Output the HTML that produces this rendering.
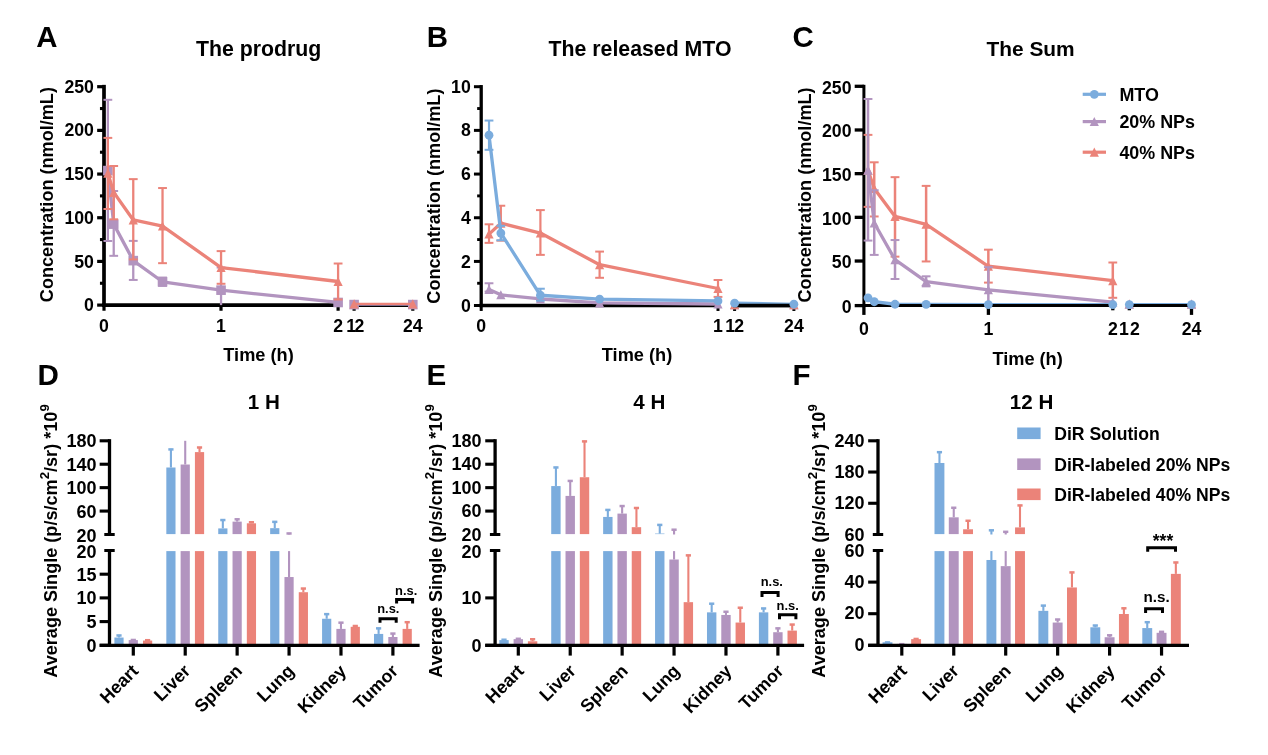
<!DOCTYPE html>
<html><head><meta charset="utf-8"><title>Figure</title>
<style>html,body{margin:0;padding:0;background:#fff}svg{display:block}</style></head>
<body>
<svg width="1268" height="755" viewBox="0 0 1268 755" font-family='&quot;Liberation Sans&quot;, Arial, sans-serif' font-weight="bold" fill="#000">
<rect width="1268" height="755" fill="#fff"/>
<line x1="104" y1="84.85" x2="104" y2="306.95" stroke="#000" stroke-width="3.7"/>
<line x1="102.15" y1="305.1" x2="339.95" y2="305.1" stroke="#000" stroke-width="3.7"/>
<line x1="352.25" y1="305.1" x2="414.65" y2="305.1" stroke="#000" stroke-width="3.7"/>
<line x1="97.15" y1="305.1" x2="104" y2="305.1" stroke="#000" stroke-width="3.2"/>
<text x="93.95" y="311.2" font-size="17.7" text-anchor="end">0</text>
<line x1="99.95" y1="283.26" x2="104" y2="283.26" stroke="#000" stroke-width="3.1"/>
<line x1="97.15" y1="261.42" x2="104" y2="261.42" stroke="#000" stroke-width="3.2"/>
<text x="93.95" y="267.52" font-size="17.7" text-anchor="end">50</text>
<line x1="99.95" y1="239.58" x2="104" y2="239.58" stroke="#000" stroke-width="3.1"/>
<line x1="97.15" y1="217.74" x2="104" y2="217.74" stroke="#000" stroke-width="3.2"/>
<text x="93.95" y="223.84" font-size="17.7" text-anchor="end">100</text>
<line x1="99.95" y1="195.9" x2="104" y2="195.9" stroke="#000" stroke-width="3.1"/>
<line x1="97.15" y1="174.06" x2="104" y2="174.06" stroke="#000" stroke-width="3.2"/>
<text x="93.95" y="180.16" font-size="17.7" text-anchor="end">150</text>
<line x1="99.95" y1="152.22" x2="104" y2="152.22" stroke="#000" stroke-width="3.1"/>
<line x1="97.15" y1="130.38" x2="104" y2="130.38" stroke="#000" stroke-width="3.2"/>
<text x="93.95" y="136.48" font-size="17.7" text-anchor="end">200</text>
<line x1="99.95" y1="108.54" x2="104" y2="108.54" stroke="#000" stroke-width="3.1"/>
<line x1="97.15" y1="86.7" x2="104" y2="86.7" stroke="#000" stroke-width="3.2"/>
<text x="93.95" y="92.8" font-size="17.7" text-anchor="end">250</text>
<line x1="104" y1="305.1" x2="104" y2="310.75" stroke="#000" stroke-width="3.2"/>
<text x="104" y="331.6" font-size="17.7" text-anchor="middle">0</text>
<line x1="221" y1="305.1" x2="221" y2="310.75" stroke="#000" stroke-width="3.2"/>
<text x="221" y="331.6" font-size="17.7" text-anchor="middle">1</text>
<line x1="338.1" y1="305.1" x2="338.1" y2="310.75" stroke="#000" stroke-width="3.2"/>
<text x="338.1" y="331.6" font-size="17.7" text-anchor="middle">2</text>
<line x1="354.1" y1="305.1" x2="354.1" y2="310.75" stroke="#000" stroke-width="3.2"/>
<text x="346.26" y="331.6" font-size="17.7">1<tspan dx="-1.7">2</tspan></text>
<line x1="412.8" y1="305.1" x2="412.8" y2="310.75" stroke="#000" stroke-width="3.2"/>
<text x="412.8" y="331.6" font-size="17.7" text-anchor="middle">24</text>
<text x="258.5" y="361" font-size="18.2" text-anchor="middle">Time (h)</text>
<text x="52.6" y="194.6" font-size="18.1" text-anchor="middle" transform="rotate(-90 52.6 194.6)">Concentration (nmol/mL)</text>
<text x="258.6" y="55.8" font-size="21.3" text-anchor="middle">The prodrug</text>
<text x="36.2" y="47.3" font-size="29.4" text-anchor="start">A</text>
<line x1="107.86" y1="240.98" x2="107.86" y2="99.8" stroke="#b294bf" stroke-width="2.3"/>
<line x1="103.46" y1="99.8" x2="112.26" y2="99.8" stroke="#b294bf" stroke-width="2.0"/>
<line x1="103.46" y1="240.98" x2="112.26" y2="240.98" stroke="#b294bf" stroke-width="2.0"/>
<line x1="113.72" y1="255.83" x2="113.72" y2="191.01" stroke="#b294bf" stroke-width="2.3"/>
<line x1="109.32" y1="191.01" x2="118.12" y2="191.01" stroke="#b294bf" stroke-width="2.0"/>
<line x1="109.32" y1="255.83" x2="118.12" y2="255.83" stroke="#b294bf" stroke-width="2.0"/>
<line x1="133.26" y1="279.94" x2="133.26" y2="240.89" stroke="#b294bf" stroke-width="2.3"/>
<line x1="128.86" y1="240.89" x2="137.66" y2="240.89" stroke="#b294bf" stroke-width="2.0"/>
<line x1="128.86" y1="279.94" x2="137.66" y2="279.94" stroke="#b294bf" stroke-width="2.0"/>
<line x1="162.53" y1="285.88" x2="162.53" y2="277.58" stroke="#b294bf" stroke-width="2.3"/>
<line x1="158.12" y1="277.58" x2="166.93" y2="277.58" stroke="#b294bf" stroke-width="2.0"/>
<line x1="158.12" y1="285.88" x2="166.93" y2="285.88" stroke="#b294bf" stroke-width="2.0"/>
<line x1="221.05" y1="305.1" x2="221.05" y2="267.54" stroke="#b294bf" stroke-width="2.3"/>
<line x1="216.65" y1="267.54" x2="225.45" y2="267.54" stroke="#b294bf" stroke-width="2.0"/>
<polyline fill="none" stroke="#b294bf" stroke-width="3.3" stroke-linejoin="round" points="107.86,170.57 113.72,224.12 133.26,260.63 162.53,281.77 221.05,290.16 338.1,302.48"/>
<polyline fill="none" stroke="#b294bf" stroke-width="2.3" stroke-linejoin="round" points="354.1,304.58 412.8,304.58"/>
<rect x="103.06" y="165.77" width="9.6" height="9.6" fill="#b294bf"/>
<rect x="108.92" y="219.32" width="9.6" height="9.6" fill="#b294bf"/>
<rect x="128.46" y="255.83" width="9.6" height="9.6" fill="#b294bf"/>
<rect x="157.72" y="276.97" width="9.6" height="9.6" fill="#b294bf"/>
<rect x="216.25" y="285.36" width="9.6" height="9.6" fill="#b294bf"/>
<rect x="333.3" y="297.68" width="9.6" height="9.6" fill="#b294bf"/>
<rect x="349.3" y="299.78" width="9.6" height="9.6" fill="#b294bf"/>
<rect x="408" y="299.78" width="9.6" height="9.6" fill="#b294bf"/>
<line x1="107.86" y1="209" x2="107.86" y2="137.89" stroke="#eb8379" stroke-width="2.3"/>
<line x1="103.46" y1="137.89" x2="112.26" y2="137.89" stroke="#eb8379" stroke-width="2.0"/>
<line x1="103.46" y1="209" x2="112.26" y2="209" stroke="#eb8379" stroke-width="2.0"/>
<line x1="113.72" y1="219.31" x2="113.72" y2="166.02" stroke="#eb8379" stroke-width="2.3"/>
<line x1="109.32" y1="166.02" x2="118.12" y2="166.02" stroke="#eb8379" stroke-width="2.0"/>
<line x1="109.32" y1="219.31" x2="118.12" y2="219.31" stroke="#eb8379" stroke-width="2.0"/>
<line x1="133.26" y1="259.41" x2="133.26" y2="179.13" stroke="#eb8379" stroke-width="2.3"/>
<line x1="128.86" y1="179.13" x2="137.66" y2="179.13" stroke="#eb8379" stroke-width="2.0"/>
<line x1="128.86" y1="259.41" x2="137.66" y2="259.41" stroke="#eb8379" stroke-width="2.0"/>
<line x1="162.53" y1="263.17" x2="162.53" y2="188.04" stroke="#eb8379" stroke-width="2.3"/>
<line x1="158.12" y1="188.04" x2="166.93" y2="188.04" stroke="#eb8379" stroke-width="2.0"/>
<line x1="158.12" y1="263.17" x2="166.93" y2="263.17" stroke="#eb8379" stroke-width="2.0"/>
<line x1="221.05" y1="283.78" x2="221.05" y2="251.11" stroke="#eb8379" stroke-width="2.3"/>
<line x1="216.65" y1="251.11" x2="225.45" y2="251.11" stroke="#eb8379" stroke-width="2.0"/>
<line x1="216.65" y1="283.78" x2="225.45" y2="283.78" stroke="#eb8379" stroke-width="2.0"/>
<line x1="338.1" y1="299.51" x2="338.1" y2="263.52" stroke="#eb8379" stroke-width="2.3"/>
<line x1="333.7" y1="263.52" x2="342.5" y2="263.52" stroke="#eb8379" stroke-width="2.0"/>
<line x1="333.7" y1="299.51" x2="342.5" y2="299.51" stroke="#eb8379" stroke-width="2.0"/>
<polyline fill="none" stroke="#eb8379" stroke-width="3.3" stroke-linejoin="round" points="107.86,173.19 113.72,192.41 133.26,219.92 162.53,226.04 221.05,267.54 338.1,281.51"/>
<polyline fill="none" stroke="#eb8379" stroke-width="2.3" stroke-linejoin="round" points="354.1,303.96 412.8,303.96"/>
<path d="M107.86,168.59 L112.46,177.69 H103.26 Z" fill="#eb8379"/>
<path d="M113.72,187.81 L118.32,196.91 H109.12 Z" fill="#eb8379"/>
<path d="M133.26,215.32 L137.86,224.42 H128.66 Z" fill="#eb8379"/>
<path d="M162.53,221.44 L167.12,230.54 H157.93 Z" fill="#eb8379"/>
<path d="M221.05,262.94 L225.65,272.04 H216.45 Z" fill="#eb8379"/>
<path d="M338.1,276.91 L342.7,286.01 H333.5 Z" fill="#eb8379"/>
<path d="M354.1,299.36 L358.7,308.46 H349.5 Z" fill="#eb8379"/>
<path d="M412.8,299.36 L417.4,308.46 H408.2 Z" fill="#eb8379"/>
<line x1="481.2" y1="85.05" x2="481.2" y2="307.15" stroke="#000" stroke-width="3.3"/>
<line x1="479.55" y1="305.5" x2="719.65" y2="305.5" stroke="#000" stroke-width="3.3"/>
<line x1="732.95" y1="305.5" x2="795.55" y2="305.5" stroke="#000" stroke-width="3.3"/>
<line x1="473.95" y1="305.5" x2="481.2" y2="305.5" stroke="#000" stroke-width="3.0"/>
<text x="470.75" y="311.6" font-size="17.7" text-anchor="end">0</text>
<line x1="477.15" y1="283.26" x2="481.2" y2="283.26" stroke="#000" stroke-width="2.9"/>
<line x1="473.95" y1="261.42" x2="481.2" y2="261.42" stroke="#000" stroke-width="3.0"/>
<text x="470.75" y="267.52" font-size="17.7" text-anchor="end">2</text>
<line x1="477.15" y1="239.58" x2="481.2" y2="239.58" stroke="#000" stroke-width="2.9"/>
<line x1="473.95" y1="217.74" x2="481.2" y2="217.74" stroke="#000" stroke-width="3.0"/>
<text x="470.75" y="223.84" font-size="17.7" text-anchor="end">4</text>
<line x1="477.15" y1="195.9" x2="481.2" y2="195.9" stroke="#000" stroke-width="2.9"/>
<line x1="473.95" y1="174.06" x2="481.2" y2="174.06" stroke="#000" stroke-width="3.0"/>
<text x="470.75" y="180.16" font-size="17.7" text-anchor="end">6</text>
<line x1="477.15" y1="152.22" x2="481.2" y2="152.22" stroke="#000" stroke-width="2.9"/>
<line x1="473.95" y1="130.38" x2="481.2" y2="130.38" stroke="#000" stroke-width="3.0"/>
<text x="470.75" y="136.48" font-size="17.7" text-anchor="end">8</text>
<line x1="477.15" y1="108.54" x2="481.2" y2="108.54" stroke="#000" stroke-width="2.9"/>
<line x1="473.95" y1="86.7" x2="481.2" y2="86.7" stroke="#000" stroke-width="3.0"/>
<text x="470.75" y="92.8" font-size="17.7" text-anchor="end">10</text>
<line x1="481.2" y1="305.5" x2="481.2" y2="310.95" stroke="#000" stroke-width="3.0"/>
<text x="481.2" y="331.6" font-size="17.7" text-anchor="middle">0</text>
<line x1="718" y1="305.5" x2="718" y2="310.95" stroke="#000" stroke-width="3.0"/>
<text x="718" y="331.6" font-size="17.7" text-anchor="middle">1</text>
<line x1="734.6" y1="305.5" x2="734.6" y2="310.95" stroke="#000" stroke-width="3.0"/>
<text x="725.16" y="331.6" font-size="17.7">1<tspan dx="-0.7">2</tspan></text>
<line x1="793.9" y1="305.5" x2="793.9" y2="310.95" stroke="#000" stroke-width="3.0"/>
<text x="793.9" y="331.6" font-size="17.7" text-anchor="middle">24</text>
<text x="637" y="361" font-size="18.2" text-anchor="middle">Time (h)</text>
<text x="440.4" y="196.1" font-size="18.1" text-anchor="middle" transform="rotate(-90 440.4 196.1)">Concentration (nmol/mL)</text>
<text x="640" y="55.8" font-size="21.3" text-anchor="middle">The released MTO</text>
<text x="426.7" y="47.3" font-size="29.4" text-anchor="start">B</text>
<line x1="489.01" y1="291.56" x2="489.01" y2="283.26" stroke="#b294bf" stroke-width="2.2"/>
<line x1="484.61" y1="283.26" x2="493.41" y2="283.26" stroke="#b294bf" stroke-width="2.0"/>
<line x1="484.61" y1="291.56" x2="493.41" y2="291.56" stroke="#b294bf" stroke-width="2.0"/>
<polyline fill="none" stroke="#b294bf" stroke-width="3.3" stroke-linejoin="round" points="489.01,289.38 500.85,294.84 540.4,298.98 599.6,302.92 718,304.01"/>
<path d="M489.01,284.78 L493.61,293.88 H484.41 Z" fill="#b294bf"/>
<path d="M500.85,290.24 L505.45,299.34 H496.25 Z" fill="#b294bf"/>
<path d="M540.4,294.38 L545,303.48 H535.8 Z" fill="#b294bf"/>
<path d="M599.6,298.32 L604.2,307.42 H595 Z" fill="#b294bf"/>
<path d="M718,299.41 L722.6,308.51 H713.4 Z" fill="#b294bf"/>
<path d="M734.6,300.06 L739.2,309.16 H730 Z" fill="#b294bf"/>
<path d="M793.9,300.06 L798.5,309.16 H789.3 Z" fill="#b294bf"/>
<line x1="489.01" y1="242.86" x2="489.01" y2="224.29" stroke="#eb8379" stroke-width="2.2"/>
<line x1="484.61" y1="224.29" x2="493.41" y2="224.29" stroke="#eb8379" stroke-width="2.0"/>
<line x1="484.61" y1="242.86" x2="493.41" y2="242.86" stroke="#eb8379" stroke-width="2.0"/>
<line x1="500.85" y1="240.67" x2="500.85" y2="205.73" stroke="#eb8379" stroke-width="2.2"/>
<line x1="496.45" y1="205.73" x2="505.25" y2="205.73" stroke="#eb8379" stroke-width="2.0"/>
<line x1="496.45" y1="240.67" x2="505.25" y2="240.67" stroke="#eb8379" stroke-width="2.0"/>
<line x1="540.4" y1="254.87" x2="540.4" y2="210.1" stroke="#eb8379" stroke-width="2.2"/>
<line x1="536" y1="210.1" x2="544.8" y2="210.1" stroke="#eb8379" stroke-width="2.0"/>
<line x1="536" y1="254.87" x2="544.8" y2="254.87" stroke="#eb8379" stroke-width="2.0"/>
<line x1="599.6" y1="277.8" x2="599.6" y2="251.59" stroke="#eb8379" stroke-width="2.2"/>
<line x1="595.2" y1="251.59" x2="604" y2="251.59" stroke="#eb8379" stroke-width="2.0"/>
<line x1="595.2" y1="277.8" x2="604" y2="277.8" stroke="#eb8379" stroke-width="2.0"/>
<line x1="718" y1="296.91" x2="718" y2="279.98" stroke="#eb8379" stroke-width="2.2"/>
<line x1="713.6" y1="279.98" x2="722.4" y2="279.98" stroke="#eb8379" stroke-width="2.0"/>
<line x1="713.6" y1="296.91" x2="722.4" y2="296.91" stroke="#eb8379" stroke-width="2.0"/>
<polyline fill="none" stroke="#eb8379" stroke-width="3.3" stroke-linejoin="round" points="489.01,234.12 500.85,223.2 540.4,233.03 599.6,264.7 718,288.5"/>
<path d="M489.01,229.52 L493.61,238.62 H484.41 Z" fill="#eb8379"/>
<path d="M500.85,218.6 L505.45,227.7 H496.25 Z" fill="#eb8379"/>
<path d="M540.4,228.43 L545,237.53 H535.8 Z" fill="#eb8379"/>
<path d="M599.6,260.1 L604.2,269.2 H595 Z" fill="#eb8379"/>
<path d="M718,283.9 L722.6,293 H713.4 Z" fill="#eb8379"/>
<path d="M734.6,300.06 L739.2,309.16 H730 Z" fill="#eb8379"/>
<path d="M793.9,300.06 L798.5,309.16 H789.3 Z" fill="#eb8379"/>
<line x1="489.01" y1="149.82" x2="489.01" y2="120.55" stroke="#7bacdd" stroke-width="2.2"/>
<line x1="484.61" y1="120.55" x2="493.41" y2="120.55" stroke="#7bacdd" stroke-width="2.0"/>
<line x1="484.61" y1="149.82" x2="493.41" y2="149.82" stroke="#7bacdd" stroke-width="2.0"/>
<line x1="500.85" y1="240.24" x2="500.85" y2="225.82" stroke="#7bacdd" stroke-width="2.2"/>
<line x1="496.45" y1="225.82" x2="505.25" y2="225.82" stroke="#7bacdd" stroke-width="2.0"/>
<line x1="496.45" y1="240.24" x2="505.25" y2="240.24" stroke="#7bacdd" stroke-width="2.0"/>
<line x1="540.4" y1="300.73" x2="540.4" y2="288.72" stroke="#7bacdd" stroke-width="2.2"/>
<line x1="536" y1="288.72" x2="544.8" y2="288.72" stroke="#7bacdd" stroke-width="2.0"/>
<line x1="536" y1="300.73" x2="544.8" y2="300.73" stroke="#7bacdd" stroke-width="2.0"/>
<polyline fill="none" stroke="#7bacdd" stroke-width="3.3" stroke-linejoin="round" points="489.01,135.18 500.85,233.03 540.4,295.27 599.6,299.2 718,300.95"/>
<polyline fill="none" stroke="#7bacdd" stroke-width="3.2" stroke-linejoin="round" points="734.6,303.2 793.9,304.23"/>
<line x1="733" y1="305.5" x2="795.5" y2="305.5" stroke="#000" stroke-width="3.3"/>
<circle cx="489.01" cy="135.18" r="4.4" fill="#7bacdd"/>
<circle cx="500.85" cy="233.03" r="4.4" fill="#7bacdd"/>
<circle cx="540.4" cy="295.27" r="4.4" fill="#7bacdd"/>
<circle cx="599.6" cy="299.2" r="4.4" fill="#7bacdd"/>
<circle cx="718" cy="300.95" r="4.4" fill="#7bacdd"/>
<circle cx="734.6" cy="303.2" r="4.4" fill="#7bacdd"/>
<circle cx="793.9" cy="304.23" r="4.4" fill="#7bacdd"/>
<line x1="863.9" y1="84.8" x2="863.9" y2="307.1" stroke="#000" stroke-width="3.0"/>
<line x1="862.4" y1="305.6" x2="1114.3" y2="305.6" stroke="#000" stroke-width="3.0"/>
<line x1="1127.8" y1="305.6" x2="1193" y2="305.6" stroke="#000" stroke-width="3.0"/>
<line x1="854.7" y1="305.6" x2="863.9" y2="305.6" stroke="#000" stroke-width="3.3"/>
<text x="851.5" y="312.8" font-size="17.7" text-anchor="end">0</text>
<line x1="854.7" y1="261.02" x2="863.9" y2="261.02" stroke="#000" stroke-width="3.3"/>
<text x="851.5" y="268.22" font-size="17.7" text-anchor="end">50</text>
<line x1="854.7" y1="217.34" x2="863.9" y2="217.34" stroke="#000" stroke-width="3.3"/>
<text x="851.5" y="224.54" font-size="17.7" text-anchor="end">100</text>
<line x1="854.7" y1="173.66" x2="863.9" y2="173.66" stroke="#000" stroke-width="3.3"/>
<text x="851.5" y="180.86" font-size="17.7" text-anchor="end">150</text>
<line x1="854.7" y1="129.98" x2="863.9" y2="129.98" stroke="#000" stroke-width="3.3"/>
<text x="851.5" y="137.18" font-size="17.7" text-anchor="end">200</text>
<line x1="854.7" y1="86.3" x2="863.9" y2="86.3" stroke="#000" stroke-width="3.3"/>
<text x="851.5" y="93.5" font-size="17.7" text-anchor="end">250</text>
<line x1="863.9" y1="305.6" x2="863.9" y2="314.9" stroke="#000" stroke-width="3.3"/>
<text x="863.9" y="334.5" font-size="17.7" text-anchor="middle">0</text>
<line x1="988.4" y1="305.6" x2="988.4" y2="314.9" stroke="#000" stroke-width="3.3"/>
<text x="988.4" y="334.5" font-size="17.7" text-anchor="middle">1</text>
<line x1="1112.8" y1="305.6" x2="1112.8" y2="310.3" stroke="#000" stroke-width="3.3"/>
<text x="1112.8" y="334.5" font-size="17.7" text-anchor="middle">2</text>
<line x1="1129.3" y1="305.6" x2="1129.3" y2="310.3" stroke="#000" stroke-width="3.3"/>
<text x="1119.06" y="334.5" font-size="17.7">1<tspan dx="1">2</tspan></text>
<line x1="1191.5" y1="305.6" x2="1191.5" y2="314.9" stroke="#000" stroke-width="3.3"/>
<text x="1191.5" y="334.5" font-size="17.7" text-anchor="middle">24</text>
<text x="1027.6" y="365" font-size="18.2" text-anchor="middle">Time (h)</text>
<text x="811" y="194.95" font-size="18.1" text-anchor="middle" transform="rotate(-90 811 194.95)">Concentration (nmol/mL)</text>
<text x="1030.6" y="56.2" font-size="20.9" text-anchor="middle">The Sum</text>
<text x="792.5" y="47.3" font-size="29.4" text-anchor="start">C</text>
<line x1="868.01" y1="206.86" x2="868.01" y2="134.87" stroke="#eb8379" stroke-width="2.5"/>
<line x1="863.61" y1="134.87" x2="872.41" y2="134.87" stroke="#eb8379" stroke-width="2.0"/>
<line x1="863.61" y1="206.86" x2="872.41" y2="206.86" stroke="#eb8379" stroke-width="2.0"/>
<line x1="874.23" y1="216.47" x2="874.23" y2="162.3" stroke="#eb8379" stroke-width="2.5"/>
<line x1="869.83" y1="162.3" x2="878.63" y2="162.3" stroke="#eb8379" stroke-width="2.0"/>
<line x1="869.83" y1="216.47" x2="878.63" y2="216.47" stroke="#eb8379" stroke-width="2.0"/>
<line x1="895.01" y1="256.65" x2="895.01" y2="177.15" stroke="#eb8379" stroke-width="2.5"/>
<line x1="890.61" y1="177.15" x2="899.41" y2="177.15" stroke="#eb8379" stroke-width="2.0"/>
<line x1="890.61" y1="256.65" x2="899.41" y2="256.65" stroke="#eb8379" stroke-width="2.0"/>
<line x1="926.12" y1="261.46" x2="926.12" y2="185.89" stroke="#eb8379" stroke-width="2.5"/>
<line x1="921.73" y1="185.89" x2="930.52" y2="185.89" stroke="#eb8379" stroke-width="2.0"/>
<line x1="921.73" y1="261.46" x2="930.52" y2="261.46" stroke="#eb8379" stroke-width="2.0"/>
<line x1="988.35" y1="282.6" x2="988.35" y2="249.66" stroke="#eb8379" stroke-width="2.5"/>
<line x1="983.95" y1="249.66" x2="992.75" y2="249.66" stroke="#eb8379" stroke-width="2.0"/>
<line x1="983.95" y1="282.6" x2="992.75" y2="282.6" stroke="#eb8379" stroke-width="2.0"/>
<line x1="1112.8" y1="297.8" x2="1112.8" y2="262.51" stroke="#eb8379" stroke-width="2.5"/>
<line x1="1108.4" y1="262.51" x2="1117.2" y2="262.51" stroke="#eb8379" stroke-width="2.0"/>
<line x1="1108.4" y1="297.8" x2="1117.2" y2="297.8" stroke="#eb8379" stroke-width="2.0"/>
<polyline fill="none" stroke="#eb8379" stroke-width="3.3" stroke-linejoin="round" points="868.01,170.17 874.23,188.51 895.01,216.47 926.12,224.33 988.35,266.26 1112.8,280.68"/>
<path d="M868.01,165.57 L872.61,174.67 H863.41 Z" fill="#eb8379"/>
<path d="M874.23,183.91 L878.83,193.01 H869.63 Z" fill="#eb8379"/>
<path d="M895.01,211.87 L899.61,220.97 H890.41 Z" fill="#eb8379"/>
<path d="M926.12,219.73 L930.73,228.83 H921.52 Z" fill="#eb8379"/>
<path d="M988.35,261.66 L992.95,270.76 H983.75 Z" fill="#eb8379"/>
<path d="M1112.8,276.08 L1117.4,285.18 H1108.2 Z" fill="#eb8379"/>
<path d="M1129.3,299.4 L1133.9,308.5 H1124.7 Z" fill="#eb8379"/>
<path d="M1191.5,299.4 L1196.1,308.5 H1186.9 Z" fill="#eb8379"/>
<line x1="868.01" y1="240.58" x2="868.01" y2="98.97" stroke="#b294bf" stroke-width="2.5"/>
<line x1="863.61" y1="98.97" x2="872.41" y2="98.97" stroke="#b294bf" stroke-width="2.0"/>
<line x1="863.61" y1="240.58" x2="872.41" y2="240.58" stroke="#b294bf" stroke-width="2.0"/>
<line x1="874.23" y1="254.9" x2="874.23" y2="190.26" stroke="#b294bf" stroke-width="2.5"/>
<line x1="869.83" y1="190.26" x2="878.63" y2="190.26" stroke="#b294bf" stroke-width="2.0"/>
<line x1="869.83" y1="254.9" x2="878.63" y2="254.9" stroke="#b294bf" stroke-width="2.0"/>
<line x1="895.01" y1="279.02" x2="895.01" y2="240.05" stroke="#b294bf" stroke-width="2.5"/>
<line x1="890.61" y1="240.05" x2="899.41" y2="240.05" stroke="#b294bf" stroke-width="2.0"/>
<line x1="890.61" y1="279.02" x2="899.41" y2="279.02" stroke="#b294bf" stroke-width="2.0"/>
<line x1="926.12" y1="286.35" x2="926.12" y2="276.31" stroke="#b294bf" stroke-width="2.5"/>
<line x1="921.73" y1="276.31" x2="930.52" y2="276.31" stroke="#b294bf" stroke-width="2.0"/>
<line x1="921.73" y1="286.35" x2="930.52" y2="286.35" stroke="#b294bf" stroke-width="2.0"/>
<line x1="988.35" y1="304.7" x2="988.35" y2="267.14" stroke="#b294bf" stroke-width="2.5"/>
<line x1="983.95" y1="267.14" x2="992.75" y2="267.14" stroke="#b294bf" stroke-width="2.0"/>
<polyline fill="none" stroke="#b294bf" stroke-width="3.3" stroke-linejoin="round" points="868.01,170.17 874.23,223.02 895.01,259.71 926.12,281.55 988.35,289.85 1112.8,302.08"/>
<path d="M868.01,165.57 L872.61,174.67 H863.41 Z" fill="#b294bf"/>
<path d="M874.23,218.42 L878.83,227.52 H869.63 Z" fill="#b294bf"/>
<path d="M895.01,255.11 L899.61,264.21 H890.41 Z" fill="#b294bf"/>
<path d="M926.12,276.95 L930.73,286.05 H921.52 Z" fill="#b294bf"/>
<path d="M988.35,285.25 L992.95,294.35 H983.75 Z" fill="#b294bf"/>
<path d="M1112.8,297.48 L1117.4,306.58 H1108.2 Z" fill="#b294bf"/>
<path d="M1129.3,299.58 L1133.9,308.68 H1124.7 Z" fill="#b294bf"/>
<path d="M1191.5,299.58 L1196.1,308.68 H1186.9 Z" fill="#b294bf"/>
<polyline fill="none" stroke="#7bacdd" stroke-width="3.3" stroke-linejoin="round" points="868.01,297.8 874.23,301.73 895.01,304.26 926.12,304.44 988.35,304.53 1112.8,304.61"/>
<polyline fill="none" stroke="#7bacdd" stroke-width="3.2" stroke-linejoin="round" points="1129.3,304.61 1191.5,304.66"/>
<line x1="893" y1="305.6" x2="1114.4" y2="305.6" stroke="#000" stroke-width="3.0"/>
<line x1="1127.7" y1="305.6" x2="1193.1" y2="305.6" stroke="#000" stroke-width="3.0"/>
<circle cx="868.01" cy="297.8" r="4.4" fill="#7bacdd"/>
<circle cx="874.23" cy="301.73" r="4.4" fill="#7bacdd"/>
<circle cx="895.01" cy="304.26" r="4.4" fill="#7bacdd"/>
<circle cx="926.12" cy="304.44" r="4.4" fill="#7bacdd"/>
<circle cx="988.35" cy="304.53" r="4.4" fill="#7bacdd"/>
<circle cx="1112.8" cy="304.61" r="4.4" fill="#7bacdd"/>
<circle cx="1129.3" cy="304.61" r="4.4" fill="#7bacdd"/>
<circle cx="1191.5" cy="304.66" r="4.4" fill="#7bacdd"/>
<line x1="119" y1="637.53" x2="119" y2="634.87" stroke="#7bacdd" stroke-width="2.1"/>
<line x1="116.4" y1="635.47" x2="121.6" y2="635.47" stroke="#7bacdd" stroke-width="2.5"/>
<rect x="114.4" y="637.53" width="9.2" height="7.77" fill="#7bacdd"/>
<line x1="133.3" y1="640.09" x2="133.3" y2="639.38" stroke="#b294bf" stroke-width="2.1"/>
<line x1="130.7" y1="639.98" x2="135.9" y2="639.98" stroke="#b294bf" stroke-width="2.5"/>
<rect x="128.7" y="640.09" width="9.2" height="5.21" fill="#b294bf"/>
<line x1="147.6" y1="640.56" x2="147.6" y2="639.61" stroke="#eb8379" stroke-width="2.1"/>
<line x1="145" y1="640.21" x2="150.2" y2="640.21" stroke="#eb8379" stroke-width="2.5"/>
<rect x="143" y="640.56" width="9.2" height="4.74" fill="#eb8379"/>
<line x1="170.92" y1="467.5" x2="170.92" y2="448.82" stroke="#7bacdd" stroke-width="2.1"/>
<line x1="168.32" y1="449.42" x2="173.52" y2="449.42" stroke="#7bacdd" stroke-width="2.5"/>
<rect x="166.32" y="551.1" width="9.2" height="94.2" fill="#7bacdd"/>
<rect x="166.32" y="467.5" width="9.2" height="66.6" fill="#7bacdd"/>
<line x1="185.22" y1="464.52" x2="185.22" y2="440.8" stroke="#b294bf" stroke-width="2.1"/>
<rect x="180.62" y="551.1" width="9.2" height="94.2" fill="#b294bf"/>
<rect x="180.62" y="464.52" width="9.2" height="69.58" fill="#b294bf"/>
<line x1="199.52" y1="452.1" x2="199.52" y2="446.89" stroke="#eb8379" stroke-width="2.1"/>
<line x1="196.92" y1="447.49" x2="202.12" y2="447.49" stroke="#eb8379" stroke-width="2.5"/>
<rect x="194.92" y="551.1" width="9.2" height="94.2" fill="#eb8379"/>
<rect x="194.92" y="452.1" width="9.2" height="82" fill="#eb8379"/>
<line x1="222.84" y1="528.41" x2="222.84" y2="519.45" stroke="#7bacdd" stroke-width="2.1"/>
<line x1="220.24" y1="520.05" x2="225.44" y2="520.05" stroke="#7bacdd" stroke-width="2.5"/>
<rect x="218.24" y="551.1" width="9.2" height="94.2" fill="#7bacdd"/>
<rect x="218.24" y="528.41" width="9.2" height="5.69" fill="#7bacdd"/>
<line x1="237.14" y1="521.62" x2="237.14" y2="518.69" stroke="#b294bf" stroke-width="2.1"/>
<line x1="234.54" y1="519.29" x2="239.74" y2="519.29" stroke="#b294bf" stroke-width="2.5"/>
<rect x="232.54" y="551.1" width="9.2" height="94.2" fill="#b294bf"/>
<rect x="232.54" y="521.62" width="9.2" height="12.48" fill="#b294bf"/>
<line x1="251.44" y1="523.31" x2="251.44" y2="521.62" stroke="#eb8379" stroke-width="2.1"/>
<line x1="248.84" y1="522.22" x2="254.04" y2="522.22" stroke="#eb8379" stroke-width="2.5"/>
<rect x="246.84" y="551.1" width="9.2" height="94.2" fill="#eb8379"/>
<rect x="246.84" y="523.31" width="9.2" height="10.79" fill="#eb8379"/>
<line x1="274.76" y1="528.18" x2="274.76" y2="521.26" stroke="#7bacdd" stroke-width="2.1"/>
<line x1="272.16" y1="521.86" x2="277.36" y2="521.86" stroke="#7bacdd" stroke-width="2.5"/>
<rect x="270.16" y="551.1" width="9.2" height="94.2" fill="#7bacdd"/>
<rect x="270.16" y="528.18" width="9.2" height="5.92" fill="#7bacdd"/>
<line x1="289.06" y1="577.04" x2="289.06" y2="551.1" stroke="#b294bf" stroke-width="2.1"/>
<line x1="289.06" y1="534.5" x2="289.06" y2="532.86" stroke="#b294bf" stroke-width="2.1"/>
<line x1="286.46" y1="533.46" x2="291.66" y2="533.46" stroke="#b294bf" stroke-width="2.5"/>
<rect x="284.46" y="577.04" width="9.2" height="68.26" fill="#b294bf"/>
<line x1="303.36" y1="592.21" x2="303.36" y2="587.95" stroke="#eb8379" stroke-width="2.1"/>
<line x1="300.76" y1="588.55" x2="305.96" y2="588.55" stroke="#eb8379" stroke-width="2.5"/>
<rect x="298.76" y="592.21" width="9.2" height="53.09" fill="#eb8379"/>
<line x1="326.68" y1="618.76" x2="326.68" y2="613.54" stroke="#7bacdd" stroke-width="2.1"/>
<line x1="324.08" y1="614.14" x2="329.28" y2="614.14" stroke="#7bacdd" stroke-width="2.5"/>
<rect x="322.08" y="618.76" width="9.2" height="26.54" fill="#7bacdd"/>
<line x1="340.98" y1="628.9" x2="340.98" y2="622.07" stroke="#b294bf" stroke-width="2.1"/>
<line x1="338.38" y1="622.67" x2="343.58" y2="622.67" stroke="#b294bf" stroke-width="2.5"/>
<rect x="336.38" y="628.9" width="9.2" height="16.4" fill="#b294bf"/>
<line x1="355.28" y1="626.81" x2="355.28" y2="625.39" stroke="#eb8379" stroke-width="2.1"/>
<line x1="352.68" y1="625.99" x2="357.88" y2="625.99" stroke="#eb8379" stroke-width="2.5"/>
<rect x="350.68" y="626.81" width="9.2" height="18.49" fill="#eb8379"/>
<line x1="378.6" y1="633.92" x2="378.6" y2="627.76" stroke="#7bacdd" stroke-width="2.1"/>
<line x1="376" y1="628.36" x2="381.2" y2="628.36" stroke="#7bacdd" stroke-width="2.5"/>
<rect x="374" y="633.92" width="9.2" height="11.38" fill="#7bacdd"/>
<line x1="392.9" y1="637" x2="392.9" y2="632.98" stroke="#b294bf" stroke-width="2.1"/>
<line x1="390.3" y1="633.58" x2="395.5" y2="633.58" stroke="#b294bf" stroke-width="2.5"/>
<rect x="388.3" y="637" width="9.2" height="8.29" fill="#b294bf"/>
<line x1="407.2" y1="628.9" x2="407.2" y2="621.6" stroke="#eb8379" stroke-width="2.1"/>
<line x1="404.6" y1="622.2" x2="409.8" y2="622.2" stroke="#eb8379" stroke-width="2.5"/>
<rect x="402.6" y="628.9" width="9.2" height="16.4" fill="#eb8379"/>
<line x1="109.5" y1="439.15" x2="109.5" y2="536" stroke="#000" stroke-width="3.3"/>
<line x1="109.5" y1="549" x2="109.5" y2="646.95" stroke="#000" stroke-width="3.3"/>
<line x1="104.3" y1="534.5" x2="114.7" y2="534.5" stroke="#000" stroke-width="3.0"/>
<line x1="104.3" y1="550.5" x2="114.7" y2="550.5" stroke="#000" stroke-width="3.0"/>
<line x1="99.65" y1="645.3" x2="419.6" y2="645.3" stroke="#000" stroke-width="3.3"/>
<line x1="99.65" y1="440.8" x2="109.5" y2="440.8" stroke="#000" stroke-width="3.1"/>
<text x="96.45" y="447.3" font-size="18.0" text-anchor="end">180</text>
<line x1="99.65" y1="464.23" x2="109.5" y2="464.23" stroke="#000" stroke-width="3.1"/>
<text x="96.45" y="470.73" font-size="18.0" text-anchor="end">140</text>
<line x1="99.65" y1="487.65" x2="109.5" y2="487.65" stroke="#000" stroke-width="3.1"/>
<text x="96.45" y="494.15" font-size="18.0" text-anchor="end">100</text>
<line x1="99.65" y1="511.07" x2="109.5" y2="511.07" stroke="#000" stroke-width="3.1"/>
<text x="96.45" y="517.58" font-size="18.0" text-anchor="end">60</text>
<text x="96.45" y="541.6" font-size="18.0" text-anchor="end">20</text>
<text x="96.45" y="557.8" font-size="18.0" text-anchor="end">20</text>
<line x1="99.65" y1="574.2" x2="109.5" y2="574.2" stroke="#000" stroke-width="3.1"/>
<text x="96.45" y="580.7" font-size="18.0" text-anchor="end">15</text>
<line x1="99.65" y1="597.9" x2="109.5" y2="597.9" stroke="#000" stroke-width="3.1"/>
<text x="96.45" y="604.4" font-size="18.0" text-anchor="end">10</text>
<line x1="99.65" y1="621.6" x2="109.5" y2="621.6" stroke="#000" stroke-width="3.1"/>
<text x="96.45" y="628.1" font-size="18.0" text-anchor="end">5</text>
<line x1="99.65" y1="645.3" x2="109.5" y2="645.3" stroke="#000" stroke-width="3.1"/>
<text x="96.45" y="651.8" font-size="18.0" text-anchor="end">0</text>
<line x1="133.3" y1="645.3" x2="133.3" y2="655.6" stroke="#000" stroke-width="3.2"/>
<text x="139.5" y="672.1" font-size="17.9" text-anchor="end" transform="rotate(-45 139.5 672.1)">Heart</text>
<line x1="185.22" y1="645.3" x2="185.22" y2="655.6" stroke="#000" stroke-width="3.2"/>
<text x="191.42" y="672.1" font-size="17.9" text-anchor="end" transform="rotate(-45 191.42 672.1)">Liver</text>
<line x1="237.14" y1="645.3" x2="237.14" y2="655.6" stroke="#000" stroke-width="3.2"/>
<text x="243.34" y="672.1" font-size="17.9" text-anchor="end" transform="rotate(-45 243.34 672.1)">Spleen</text>
<line x1="289.06" y1="645.3" x2="289.06" y2="655.6" stroke="#000" stroke-width="3.2"/>
<text x="295.26" y="672.1" font-size="17.9" text-anchor="end" transform="rotate(-45 295.26 672.1)">Lung</text>
<line x1="340.98" y1="645.3" x2="340.98" y2="655.6" stroke="#000" stroke-width="3.2"/>
<text x="347.18" y="672.1" font-size="17.9" text-anchor="end" transform="rotate(-45 347.18 672.1)">Kidney</text>
<line x1="392.9" y1="645.3" x2="392.9" y2="655.6" stroke="#000" stroke-width="3.2"/>
<text x="399.1" y="672.1" font-size="17.9" text-anchor="end" transform="rotate(-45 399.1 672.1)">Tumor</text>
<text x="57.1" y="541" font-size="18.1" text-anchor="middle" transform="rotate(-90 57.1 541)">Average Single (p/s/cm<tspan dy="-8.3" font-size="13.2">2</tspan><tspan dy="8.3">/sr) *10</tspan><tspan dy="-8.3" font-size="13.2">9</tspan></text>
<text x="263.9" y="408.9" font-size="20.6" text-anchor="middle">1 H</text>
<text x="37.4" y="385" font-size="29.6" text-anchor="start">D</text>
<path d="M380,622.8 V618.7 H396.2 V622.8" fill="none" stroke="#000" stroke-width="3"/>
<text x="388.3" y="612.8" font-size="12.9" text-anchor="middle">n.s.</text>
<path d="M396.6,603.6 V599.6 H412.6 V603.6" fill="none" stroke="#000" stroke-width="3"/>
<text x="406.2" y="595.4" font-size="12.9" text-anchor="middle">n.s.</text>
<line x1="504" y1="640.09" x2="504" y2="639.14" stroke="#7bacdd" stroke-width="2.1"/>
<line x1="501.4" y1="639.74" x2="506.6" y2="639.74" stroke="#7bacdd" stroke-width="2.5"/>
<rect x="499.3" y="640.09" width="9.4" height="5.21" fill="#7bacdd"/>
<line x1="518.3" y1="639.14" x2="518.3" y2="638.19" stroke="#b294bf" stroke-width="2.1"/>
<line x1="515.7" y1="638.79" x2="520.9" y2="638.79" stroke="#b294bf" stroke-width="2.5"/>
<rect x="513.6" y="639.14" width="9.4" height="6.16" fill="#b294bf"/>
<line x1="532.6" y1="641.27" x2="532.6" y2="638.66" stroke="#eb8379" stroke-width="2.1"/>
<line x1="530" y1="639.26" x2="535.2" y2="639.26" stroke="#eb8379" stroke-width="2.5"/>
<rect x="527.9" y="641.27" width="9.4" height="4.03" fill="#eb8379"/>
<line x1="555.92" y1="486.07" x2="555.92" y2="466.86" stroke="#7bacdd" stroke-width="2.1"/>
<line x1="553.32" y1="467.46" x2="558.52" y2="467.46" stroke="#7bacdd" stroke-width="2.5"/>
<rect x="551.22" y="551.1" width="9.4" height="94.2" fill="#7bacdd"/>
<rect x="551.22" y="486.07" width="9.4" height="48.03" fill="#7bacdd"/>
<line x1="570.22" y1="495.91" x2="570.22" y2="480.33" stroke="#b294bf" stroke-width="2.1"/>
<line x1="567.62" y1="480.93" x2="572.82" y2="480.93" stroke="#b294bf" stroke-width="2.5"/>
<rect x="565.52" y="551.1" width="9.4" height="94.2" fill="#b294bf"/>
<rect x="565.52" y="495.91" width="9.4" height="38.19" fill="#b294bf"/>
<line x1="584.52" y1="477.23" x2="584.52" y2="440.8" stroke="#eb8379" stroke-width="2.1"/>
<line x1="581.92" y1="441.4" x2="587.12" y2="441.4" stroke="#eb8379" stroke-width="2.5"/>
<rect x="579.82" y="551.1" width="9.4" height="94.2" fill="#eb8379"/>
<rect x="579.82" y="477.23" width="9.4" height="56.87" fill="#eb8379"/>
<line x1="607.84" y1="516.93" x2="607.84" y2="509.32" stroke="#7bacdd" stroke-width="2.1"/>
<line x1="605.24" y1="509.92" x2="610.44" y2="509.92" stroke="#7bacdd" stroke-width="2.5"/>
<rect x="603.14" y="551.1" width="9.4" height="94.2" fill="#7bacdd"/>
<rect x="603.14" y="516.93" width="9.4" height="17.17" fill="#7bacdd"/>
<line x1="622.14" y1="513.59" x2="622.14" y2="505.45" stroke="#b294bf" stroke-width="2.1"/>
<line x1="619.54" y1="506.05" x2="624.74" y2="506.05" stroke="#b294bf" stroke-width="2.5"/>
<rect x="617.44" y="551.1" width="9.4" height="94.2" fill="#b294bf"/>
<rect x="617.44" y="513.59" width="9.4" height="20.51" fill="#b294bf"/>
<line x1="636.44" y1="527.18" x2="636.44" y2="507.39" stroke="#eb8379" stroke-width="2.1"/>
<line x1="633.84" y1="507.99" x2="639.04" y2="507.99" stroke="#eb8379" stroke-width="2.5"/>
<rect x="631.74" y="551.1" width="9.4" height="94.2" fill="#eb8379"/>
<rect x="631.74" y="527.18" width="9.4" height="6.92" fill="#eb8379"/>
<line x1="659.76" y1="533.56" x2="659.76" y2="524.31" stroke="#7bacdd" stroke-width="2.1"/>
<line x1="657.16" y1="524.91" x2="662.36" y2="524.91" stroke="#7bacdd" stroke-width="2.5"/>
<rect x="655.06" y="551.1" width="9.4" height="94.2" fill="#7bacdd"/>
<rect x="655.06" y="533.56" width="9.4" height="0.54" fill="#7bacdd"/>
<line x1="674.06" y1="559.51" x2="674.06" y2="551.1" stroke="#b294bf" stroke-width="2.1"/>
<line x1="674.06" y1="534.5" x2="674.06" y2="529.11" stroke="#b294bf" stroke-width="2.1"/>
<line x1="671.46" y1="529.71" x2="676.66" y2="529.71" stroke="#b294bf" stroke-width="2.5"/>
<rect x="669.36" y="559.51" width="9.4" height="85.79" fill="#b294bf"/>
<line x1="688.36" y1="602.17" x2="688.36" y2="554.77" stroke="#eb8379" stroke-width="2.1"/>
<line x1="685.76" y1="555.37" x2="690.96" y2="555.37" stroke="#eb8379" stroke-width="2.5"/>
<rect x="683.66" y="602.17" width="9.4" height="43.13" fill="#eb8379"/>
<line x1="711.68" y1="612.36" x2="711.68" y2="603.11" stroke="#7bacdd" stroke-width="2.1"/>
<line x1="709.08" y1="603.71" x2="714.28" y2="603.71" stroke="#7bacdd" stroke-width="2.5"/>
<rect x="706.98" y="612.36" width="9.4" height="32.94" fill="#7bacdd"/>
<line x1="725.98" y1="614.96" x2="725.98" y2="611.17" stroke="#b294bf" stroke-width="2.1"/>
<line x1="723.38" y1="611.77" x2="728.58" y2="611.77" stroke="#b294bf" stroke-width="2.5"/>
<rect x="721.28" y="614.96" width="9.4" height="30.34" fill="#b294bf"/>
<line x1="740.28" y1="622.55" x2="740.28" y2="607.14" stroke="#eb8379" stroke-width="2.1"/>
<line x1="737.68" y1="607.74" x2="742.88" y2="607.74" stroke="#eb8379" stroke-width="2.5"/>
<rect x="735.58" y="622.55" width="9.4" height="22.75" fill="#eb8379"/>
<line x1="763.6" y1="612.36" x2="763.6" y2="607.85" stroke="#7bacdd" stroke-width="2.1"/>
<line x1="761" y1="608.45" x2="766.2" y2="608.45" stroke="#7bacdd" stroke-width="2.5"/>
<rect x="758.9" y="612.36" width="9.4" height="32.94" fill="#7bacdd"/>
<line x1="777.9" y1="632.22" x2="777.9" y2="627.76" stroke="#b294bf" stroke-width="2.1"/>
<line x1="775.3" y1="628.36" x2="780.5" y2="628.36" stroke="#b294bf" stroke-width="2.5"/>
<rect x="773.2" y="632.22" width="9.4" height="13.08" fill="#b294bf"/>
<line x1="792.2" y1="630.61" x2="792.2" y2="623.97" stroke="#eb8379" stroke-width="2.1"/>
<line x1="789.6" y1="624.57" x2="794.8" y2="624.57" stroke="#eb8379" stroke-width="2.5"/>
<rect x="787.5" y="630.61" width="9.4" height="14.69" fill="#eb8379"/>
<line x1="495.1" y1="439.15" x2="495.1" y2="536" stroke="#000" stroke-width="3.3"/>
<line x1="495.1" y1="549" x2="495.1" y2="646.95" stroke="#000" stroke-width="3.3"/>
<line x1="489.9" y1="534.5" x2="500.3" y2="534.5" stroke="#000" stroke-width="3.0"/>
<line x1="489.9" y1="550.5" x2="500.3" y2="550.5" stroke="#000" stroke-width="3.0"/>
<line x1="485.25" y1="645.3" x2="804.1" y2="645.3" stroke="#000" stroke-width="3.3"/>
<line x1="485.25" y1="440.8" x2="495.1" y2="440.8" stroke="#000" stroke-width="3.1"/>
<text x="481.45" y="447" font-size="18.0" text-anchor="end">180</text>
<line x1="485.25" y1="464.23" x2="495.1" y2="464.23" stroke="#000" stroke-width="3.1"/>
<text x="481.45" y="470.43" font-size="18.0" text-anchor="end">140</text>
<line x1="485.25" y1="487.65" x2="495.1" y2="487.65" stroke="#000" stroke-width="3.1"/>
<text x="481.45" y="493.85" font-size="18.0" text-anchor="end">100</text>
<line x1="485.25" y1="511.07" x2="495.1" y2="511.07" stroke="#000" stroke-width="3.1"/>
<text x="481.45" y="517.28" font-size="18.0" text-anchor="end">60</text>
<text x="481.45" y="541.3" font-size="18.0" text-anchor="end">20</text>
<text x="481.45" y="557.5" font-size="18.0" text-anchor="end">20</text>
<line x1="485.25" y1="597.9" x2="495.1" y2="597.9" stroke="#000" stroke-width="3.1"/>
<text x="481.45" y="604.1" font-size="18.0" text-anchor="end">10</text>
<line x1="485.25" y1="645.3" x2="495.1" y2="645.3" stroke="#000" stroke-width="3.1"/>
<text x="481.45" y="651.5" font-size="18.0" text-anchor="end">0</text>
<line x1="518.3" y1="645.3" x2="518.3" y2="655.6" stroke="#000" stroke-width="3.2"/>
<text x="525.1" y="672.1" font-size="17.9" text-anchor="end" transform="rotate(-45 525.1 672.1)">Heart</text>
<line x1="570.22" y1="645.3" x2="570.22" y2="655.6" stroke="#000" stroke-width="3.2"/>
<text x="577.02" y="672.1" font-size="17.9" text-anchor="end" transform="rotate(-45 577.02 672.1)">Liver</text>
<line x1="622.14" y1="645.3" x2="622.14" y2="655.6" stroke="#000" stroke-width="3.2"/>
<text x="628.94" y="672.1" font-size="17.9" text-anchor="end" transform="rotate(-45 628.94 672.1)">Spleen</text>
<line x1="674.06" y1="645.3" x2="674.06" y2="655.6" stroke="#000" stroke-width="3.2"/>
<text x="680.86" y="672.1" font-size="17.9" text-anchor="end" transform="rotate(-45 680.86 672.1)">Lung</text>
<line x1="725.98" y1="645.3" x2="725.98" y2="655.6" stroke="#000" stroke-width="3.2"/>
<text x="732.78" y="672.1" font-size="17.9" text-anchor="end" transform="rotate(-45 732.78 672.1)">Kidney</text>
<line x1="777.9" y1="645.3" x2="777.9" y2="655.6" stroke="#000" stroke-width="3.2"/>
<text x="784.7" y="672.1" font-size="17.9" text-anchor="end" transform="rotate(-45 784.7 672.1)">Tumor</text>
<text x="442" y="541" font-size="18.1" text-anchor="middle" transform="rotate(-90 442 541)">Average Single (p/s/cm<tspan dy="-8.3" font-size="13.2">2</tspan><tspan dy="8.3">/sr) *10</tspan><tspan dy="-8.3" font-size="13.2">9</tspan></text>
<text x="649.3" y="408.9" font-size="20.6" text-anchor="middle">4 H</text>
<text x="426.5" y="385" font-size="29.6" text-anchor="start">E</text>
<path d="M762,597 V592.5 H778.1 V597" fill="none" stroke="#000" stroke-width="3"/>
<text x="771.8" y="585.6" font-size="12.9" text-anchor="middle">n.s.</text>
<path d="M779.5,619.2 V614.7 H795.9 V619.2" fill="none" stroke="#000" stroke-width="3"/>
<text x="787.7" y="610" font-size="12.9" text-anchor="middle">n.s.</text>
<line x1="887.5" y1="642.3" x2="887.5" y2="641.82" stroke="#7bacdd" stroke-width="2.1"/>
<line x1="884.9" y1="642.42" x2="890.1" y2="642.42" stroke="#7bacdd" stroke-width="2.5"/>
<rect x="882.55" y="642.3" width="9.9" height="3" fill="#7bacdd"/>
<line x1="901.8" y1="643.88" x2="901.8" y2="643.56" stroke="#b294bf" stroke-width="2.1"/>
<line x1="899.2" y1="644.16" x2="904.4" y2="644.16" stroke="#b294bf" stroke-width="2.5"/>
<rect x="896.85" y="643.88" width="9.9" height="1.42" fill="#b294bf"/>
<line x1="916.1" y1="639.14" x2="916.1" y2="638.35" stroke="#eb8379" stroke-width="2.1"/>
<line x1="913.5" y1="638.95" x2="918.7" y2="638.95" stroke="#eb8379" stroke-width="2.5"/>
<rect x="911.15" y="639.14" width="9.9" height="6.16" fill="#eb8379"/>
<line x1="939.45" y1="462.98" x2="939.45" y2="451.58" stroke="#7bacdd" stroke-width="2.1"/>
<line x1="936.85" y1="452.18" x2="942.05" y2="452.18" stroke="#7bacdd" stroke-width="2.5"/>
<rect x="934.5" y="551.1" width="9.9" height="94.2" fill="#7bacdd"/>
<rect x="934.5" y="462.98" width="9.9" height="71.12" fill="#7bacdd"/>
<line x1="953.75" y1="517.32" x2="953.75" y2="507.17" stroke="#b294bf" stroke-width="2.1"/>
<line x1="951.15" y1="507.77" x2="956.35" y2="507.77" stroke="#b294bf" stroke-width="2.5"/>
<rect x="948.8" y="551.1" width="9.9" height="94.2" fill="#b294bf"/>
<rect x="948.8" y="517.32" width="9.9" height="16.78" fill="#b294bf"/>
<line x1="968.05" y1="529.29" x2="968.05" y2="520.18" stroke="#eb8379" stroke-width="2.1"/>
<line x1="965.45" y1="520.78" x2="970.65" y2="520.78" stroke="#eb8379" stroke-width="2.5"/>
<rect x="963.1" y="551.1" width="9.9" height="94.2" fill="#eb8379"/>
<rect x="963.1" y="529.29" width="9.9" height="4.81" fill="#eb8379"/>
<line x1="991.4" y1="559.98" x2="991.4" y2="551.1" stroke="#7bacdd" stroke-width="2.1"/>
<line x1="991.4" y1="534.5" x2="991.4" y2="529.71" stroke="#7bacdd" stroke-width="2.1"/>
<line x1="988.8" y1="530.31" x2="994" y2="530.31" stroke="#7bacdd" stroke-width="2.5"/>
<rect x="986.45" y="559.98" width="9.9" height="85.32" fill="#7bacdd"/>
<line x1="1005.7" y1="566.14" x2="1005.7" y2="551.1" stroke="#b294bf" stroke-width="2.1"/>
<line x1="1005.7" y1="534.5" x2="1005.7" y2="531.22" stroke="#b294bf" stroke-width="2.1"/>
<line x1="1003.1" y1="531.82" x2="1008.3" y2="531.82" stroke="#b294bf" stroke-width="2.5"/>
<rect x="1000.75" y="566.14" width="9.9" height="79.16" fill="#b294bf"/>
<line x1="1020" y1="527.42" x2="1020" y2="504.83" stroke="#eb8379" stroke-width="2.1"/>
<line x1="1017.4" y1="505.43" x2="1022.6" y2="505.43" stroke="#eb8379" stroke-width="2.5"/>
<rect x="1015.05" y="551.1" width="9.9" height="94.2" fill="#eb8379"/>
<rect x="1015.05" y="527.42" width="9.9" height="6.68" fill="#eb8379"/>
<line x1="1043.35" y1="610.86" x2="1043.35" y2="605.01" stroke="#7bacdd" stroke-width="2.1"/>
<line x1="1040.75" y1="605.61" x2="1045.95" y2="605.61" stroke="#7bacdd" stroke-width="2.5"/>
<rect x="1038.4" y="610.86" width="9.9" height="34.44" fill="#7bacdd"/>
<line x1="1057.65" y1="622.55" x2="1057.65" y2="618.91" stroke="#b294bf" stroke-width="2.1"/>
<line x1="1055.05" y1="619.51" x2="1060.25" y2="619.51" stroke="#b294bf" stroke-width="2.5"/>
<rect x="1052.7" y="622.55" width="9.9" height="22.75" fill="#b294bf"/>
<line x1="1071.95" y1="587.47" x2="1071.95" y2="571.83" stroke="#eb8379" stroke-width="2.1"/>
<line x1="1069.35" y1="572.43" x2="1074.55" y2="572.43" stroke="#eb8379" stroke-width="2.5"/>
<rect x="1067" y="587.47" width="9.9" height="57.83" fill="#eb8379"/>
<line x1="1095.3" y1="627.29" x2="1095.3" y2="624.92" stroke="#7bacdd" stroke-width="2.1"/>
<line x1="1092.7" y1="625.52" x2="1097.9" y2="625.52" stroke="#7bacdd" stroke-width="2.5"/>
<rect x="1090.35" y="627.29" width="9.9" height="18.01" fill="#7bacdd"/>
<line x1="1109.6" y1="637.24" x2="1109.6" y2="634.71" stroke="#b294bf" stroke-width="2.1"/>
<line x1="1107" y1="635.31" x2="1112.2" y2="635.31" stroke="#b294bf" stroke-width="2.5"/>
<rect x="1104.65" y="637.24" width="9.9" height="8.06" fill="#b294bf"/>
<line x1="1123.9" y1="614.02" x2="1123.9" y2="607.7" stroke="#eb8379" stroke-width="2.1"/>
<line x1="1121.3" y1="608.3" x2="1126.5" y2="608.3" stroke="#eb8379" stroke-width="2.5"/>
<rect x="1118.95" y="614.02" width="9.9" height="31.28" fill="#eb8379"/>
<line x1="1147.25" y1="628.08" x2="1147.25" y2="621.6" stroke="#7bacdd" stroke-width="2.1"/>
<line x1="1144.65" y1="622.2" x2="1149.85" y2="622.2" stroke="#7bacdd" stroke-width="2.5"/>
<rect x="1142.3" y="628.08" width="9.9" height="17.22" fill="#7bacdd"/>
<line x1="1161.55" y1="632.82" x2="1161.55" y2="631.24" stroke="#b294bf" stroke-width="2.1"/>
<line x1="1158.95" y1="631.84" x2="1164.15" y2="631.84" stroke="#b294bf" stroke-width="2.5"/>
<rect x="1156.6" y="632.82" width="9.9" height="12.48" fill="#b294bf"/>
<line x1="1175.85" y1="573.88" x2="1175.85" y2="561.88" stroke="#eb8379" stroke-width="2.1"/>
<line x1="1173.25" y1="562.48" x2="1178.45" y2="562.48" stroke="#eb8379" stroke-width="2.5"/>
<rect x="1170.9" y="573.88" width="9.9" height="71.42" fill="#eb8379"/>
<line x1="878" y1="439.15" x2="878" y2="536" stroke="#000" stroke-width="3.3"/>
<line x1="878" y1="549" x2="878" y2="646.95" stroke="#000" stroke-width="3.3"/>
<line x1="872.8" y1="534.5" x2="883.2" y2="534.5" stroke="#000" stroke-width="3.0"/>
<line x1="872.8" y1="550.5" x2="883.2" y2="550.5" stroke="#000" stroke-width="3.0"/>
<line x1="868.15" y1="645.3" x2="1189" y2="645.3" stroke="#000" stroke-width="3.3"/>
<line x1="868.15" y1="440.8" x2="878" y2="440.8" stroke="#000" stroke-width="3.1"/>
<text x="864.55" y="446.5" font-size="18.0" text-anchor="end">240</text>
<line x1="868.15" y1="472.03" x2="878" y2="472.03" stroke="#000" stroke-width="3.1"/>
<text x="864.55" y="477.73" font-size="18.0" text-anchor="end">180</text>
<line x1="868.15" y1="503.27" x2="878" y2="503.27" stroke="#000" stroke-width="3.1"/>
<text x="864.55" y="508.97" font-size="18.0" text-anchor="end">120</text>
<text x="864.55" y="540.8" font-size="18.0" text-anchor="end">60</text>
<text x="864.55" y="557" font-size="18.0" text-anchor="end">60</text>
<line x1="868.15" y1="582.1" x2="878" y2="582.1" stroke="#000" stroke-width="3.1"/>
<text x="864.55" y="587.8" font-size="18.0" text-anchor="end">40</text>
<line x1="868.15" y1="613.7" x2="878" y2="613.7" stroke="#000" stroke-width="3.1"/>
<text x="864.55" y="619.4" font-size="18.0" text-anchor="end">20</text>
<line x1="868.15" y1="645.3" x2="878" y2="645.3" stroke="#000" stroke-width="3.1"/>
<text x="864.55" y="651" font-size="18.0" text-anchor="end">0</text>
<line x1="901.8" y1="645.3" x2="901.8" y2="655.6" stroke="#000" stroke-width="3.2"/>
<text x="908" y="672.1" font-size="17.9" text-anchor="end" transform="rotate(-45 908 672.1)">Heart</text>
<line x1="953.75" y1="645.3" x2="953.75" y2="655.6" stroke="#000" stroke-width="3.2"/>
<text x="959.95" y="672.1" font-size="17.9" text-anchor="end" transform="rotate(-45 959.95 672.1)">Liver</text>
<line x1="1005.7" y1="645.3" x2="1005.7" y2="655.6" stroke="#000" stroke-width="3.2"/>
<text x="1011.9" y="672.1" font-size="17.9" text-anchor="end" transform="rotate(-45 1011.9 672.1)">Spleen</text>
<line x1="1057.65" y1="645.3" x2="1057.65" y2="655.6" stroke="#000" stroke-width="3.2"/>
<text x="1063.85" y="672.1" font-size="17.9" text-anchor="end" transform="rotate(-45 1063.85 672.1)">Lung</text>
<line x1="1109.6" y1="645.3" x2="1109.6" y2="655.6" stroke="#000" stroke-width="3.2"/>
<text x="1115.8" y="672.1" font-size="17.9" text-anchor="end" transform="rotate(-45 1115.8 672.1)">Kidney</text>
<line x1="1161.55" y1="645.3" x2="1161.55" y2="655.6" stroke="#000" stroke-width="3.2"/>
<text x="1167.75" y="672.1" font-size="17.9" text-anchor="end" transform="rotate(-45 1167.75 672.1)">Tumor</text>
<text x="825.3" y="541" font-size="18.1" text-anchor="middle" transform="rotate(-90 825.3 541)">Average Single (p/s/cm<tspan dy="-8.3" font-size="13.2">2</tspan><tspan dy="8.3">/sr) *10</tspan><tspan dy="-8.3" font-size="13.2">9</tspan></text>
<text x="1031.6" y="408.9" font-size="20.6" text-anchor="middle">12 H</text>
<text x="792.5" y="385" font-size="29.6" text-anchor="start">F</text>
<path d="M1145.6,613 V608.7 H1162.5 V613" fill="none" stroke="#000" stroke-width="3"/>
<text x="1156.6" y="601.9" font-size="15.2" text-anchor="middle">n.s.</text>
<path d="M1147.7,551.8 V547.8 H1175.5 V551.8" fill="none" stroke="#000" stroke-width="3"/>
<text x="1163" y="546.5" font-size="17.5" text-anchor="middle">***</text>
<line x1="1082.7" y1="94.3" x2="1106" y2="94.3" stroke="#7bacdd" stroke-width="3.2"/>
<circle cx="1094.3" cy="94.3" r="4.4" fill="#7bacdd"/>
<text x="1119.4" y="100.6" font-size="17.9" text-anchor="start">MTO</text>
<line x1="1082.7" y1="121.6" x2="1106" y2="121.6" stroke="#b294bf" stroke-width="3.2"/>
<path d="M1094.3,117 L1098.9,126.1 H1089.7 Z" fill="#b294bf"/>
<text x="1119.4" y="127.9" font-size="17.9" text-anchor="start">20% NPs</text>
<line x1="1082.7" y1="152.2" x2="1106" y2="152.2" stroke="#eb8379" stroke-width="3.2"/>
<path d="M1094.3,147.6 L1098.9,156.7 H1089.7 Z" fill="#eb8379"/>
<text x="1119.4" y="158.5" font-size="17.9" text-anchor="start">40% NPs</text>
<rect x="1017.2" y="427.5" width="23.4" height="11.6" fill="#7bacdd"/>
<text x="1054.2" y="439.6" font-size="17.6" text-anchor="start">DiR Solution</text>
<rect x="1017.2" y="458.4" width="23.4" height="11.6" fill="#b294bf"/>
<text x="1054.2" y="470.5" font-size="17.6" text-anchor="start">DiR-labeled 20% NPs</text>
<rect x="1017.2" y="488.5" width="23.4" height="11.6" fill="#eb8379"/>
<text x="1054.2" y="500.6" font-size="17.6" text-anchor="start">DiR-labeled 40% NPs</text>
</svg>
</body></html>
